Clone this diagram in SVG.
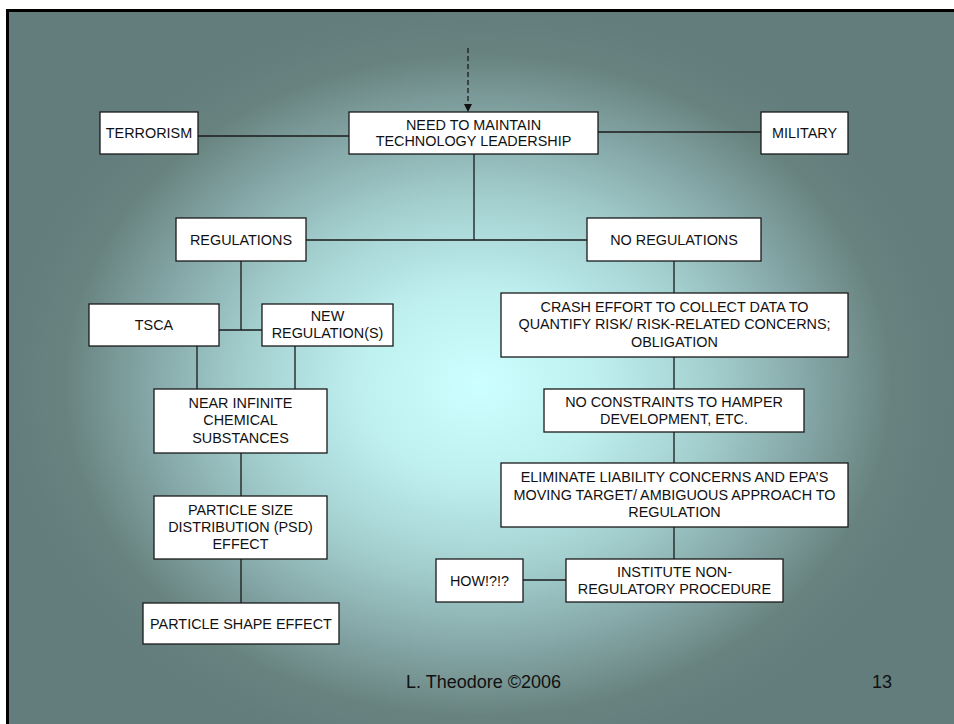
<svg xmlns="http://www.w3.org/2000/svg" width="954" height="724" viewBox="0 0 954 724">
<defs>
<radialGradient id="bg" gradientUnits="userSpaceOnUse" cx="478" cy="385" r="470" gradientTransform="translate(478 385) scale(1 0.8) translate(-478 -385)">
<stop offset="0" stop-color="#CCFFFF"/>
<stop offset="0.25" stop-color="#BFF0F0"/>
<stop offset="0.5" stop-color="#A3CECE"/>
<stop offset="0.72" stop-color="#82A3A3"/>
<stop offset="0.88" stop-color="#68837F"/>
<stop offset="1" stop-color="#627D7C"/>
</radialGradient>
<marker id="ah" viewBox="0 0 8 8" refX="8" refY="4" markerWidth="8" markerHeight="8" markerUnits="userSpaceOnUse" orient="auto">
<path d="M0,0 L8,4 L0,8 z" fill="#111"/>
</marker>
<style>
.box{fill:#fff;stroke:#1a1a1a;stroke-width:1.3}
.t{font-family:"Liberation Sans",Arial,sans-serif;font-size:14.4px;fill:#111;text-anchor:middle}
.c{stroke:#1a1a1a;stroke-width:1.3;fill:none}
.f{font-family:"Liberation Sans",Arial,sans-serif;font-size:18px;fill:#111}
</style>
</defs>
<rect x="0" y="0" width="954" height="724" fill="#fff"/>
<rect x="7.5" y="10.5" width="960" height="730" fill="url(#bg)" stroke="#000" stroke-width="3"/>

<g id="connectors">
<line class="c" x1="198" y1="136" x2="349" y2="136"/>
<line class="c" x1="598" y1="132" x2="761" y2="132"/>
<line class="c" x1="474" y1="154" x2="474" y2="240"/>
<line class="c" x1="306" y1="240" x2="587" y2="240"/>
<line class="c" x1="241" y1="261" x2="241" y2="330"/>
<line class="c" x1="219" y1="330" x2="262" y2="330"/>
<line class="c" x1="197" y1="346" x2="197" y2="389"/>
<line class="c" x1="295" y1="346" x2="295" y2="389"/>
<line class="c" x1="241" y1="453" x2="241" y2="496"/>
<line class="c" x1="241" y1="559" x2="241" y2="603"/>
<line class="c" x1="674" y1="261" x2="674" y2="293"/>
<line class="c" x1="674" y1="357" x2="674" y2="389"/>
<line class="c" x1="674" y1="432" x2="674" y2="463"/>
<line class="c" x1="674" y1="527" x2="674" y2="559"/>
<line class="c" x1="523" y1="580" x2="566" y2="580"/>
<line class="c" x1="468" y1="48" x2="468" y2="112" stroke-dasharray="5 3" marker-end="url(#ah)"/>
</g>

<g id="terrorism"><rect class="box" x="100" y="112" width="98" height="42"/><text class="t" x="149" y="138">TERRORISM</text></g>
<g id="need"><rect class="box" x="349" y="112" width="249" height="42"/><text class="t" x="473.5" y="129.5">NEED TO MAINTAIN</text><text class="t" x="473.5" y="146">TECHNOLOGY LEADERSHIP</text></g>
<g id="military"><rect class="box" x="761" y="112" width="87" height="42"/><text class="t" x="804.5" y="138">MILITARY</text></g>
<g id="regulations"><rect class="box" x="176" y="218" width="130" height="43"/><text class="t" x="241" y="244.5">REGULATIONS</text></g>
<g id="noregulations"><rect class="box" x="587" y="218" width="174" height="43"/><text class="t" x="674" y="244.5">NO REGULATIONS</text></g>
<g id="tsca"><rect class="box" x="89" y="304" width="130" height="42"/><text class="t" x="154" y="330">TSCA</text></g>
<g id="newreg"><rect class="box" x="262" y="304" width="131" height="42"/><text class="t" x="327.5" y="321">NEW</text><text class="t" x="327.5" y="338.3">REGULATION(S)</text></g>
<g id="nearinfinite"><rect class="box" x="154" y="389" width="173" height="64"/><text class="t" x="240.5" y="408">NEAR INFINITE</text><text class="t" x="240.5" y="425.3">CHEMICAL</text><text class="t" x="240.5" y="442.6">SUBSTANCES</text></g>
<g id="psd"><rect class="box" x="154" y="496" width="173" height="63"/><text class="t" x="240.5" y="514.5">PARTICLE SIZE</text><text class="t" x="240.5" y="531.8">DISTRIBUTION (PSD)</text><text class="t" x="240.5" y="549.1">EFFECT</text></g>
<g id="shape"><rect class="box" x="143" y="603" width="196" height="41"/><text class="t" x="241" y="628.5">PARTICLE SHAPE EFFECT</text></g>
<g id="crash"><rect class="box" x="501" y="293" width="347" height="64"/><text class="t" x="674.5" y="311.7">CRASH EFFORT TO COLLECT DATA TO</text><text class="t" x="674.5" y="329.3">QUANTIFY RISK/ RISK-RELATED CONCERNS;</text><text class="t" x="674.5" y="347">OBLIGATION</text></g>
<g id="noconstraints"><rect class="box" x="544" y="389" width="260" height="43"/><text class="t" x="674" y="406.8">NO CONSTRAINTS TO HAMPER</text><text class="t" x="674" y="424.2">DEVELOPMENT, ETC.</text></g>
<g id="eliminate"><rect class="box" x="501" y="463" width="347" height="64"/><text class="t" x="674.5" y="482">ELIMINATE LIABILITY CONCERNS AND EPA’S</text><text class="t" x="674.5" y="499.5">MOVING TARGET/ AMBIGUOUS APPROACH TO</text><text class="t" x="674.5" y="517">REGULATION</text></g>
<g id="institute"><rect class="box" x="566" y="559" width="217" height="43"/><text class="t" x="674.5" y="576.8">INSTITUTE NON-</text><text class="t" x="674.5" y="594.2">REGULATORY PROCEDURE</text></g>
<g id="how"><rect class="box" x="436" y="559" width="87" height="43"/><text class="t" x="479.5" y="585.5">HOW!?!?</text></g>

<text class="f" x="406" y="688">L. Theodore ©2006</text>
<text class="f" x="892" y="688" text-anchor="end">13</text>
</svg>
